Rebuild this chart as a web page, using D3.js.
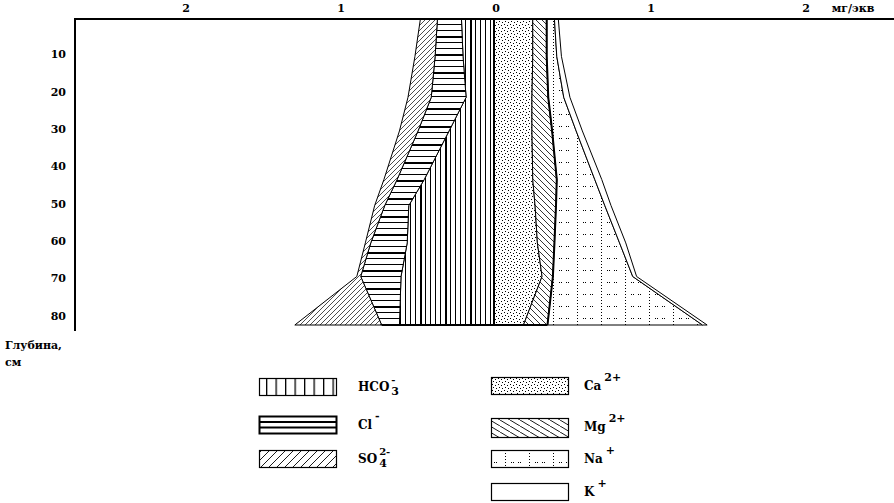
<!DOCTYPE html>
<html>
<head>
<meta charset="utf-8">
<script src="https://cdn.jsdelivr.net/npm/d3@7"></script>
<style>
  body { margin: 0; background: #fff; }
  svg { display: block; }
  text { font-family: "DejaVu Serif", "Liberation Serif", serif; font-weight: bold; fill: #000; }
</style>
</head>
<body>
<div id="chart"></div>
<script>
// depth of sampling points, cm
var depths = [0, 10, 21, 30, 43, 50, 60, 69, 82];
// anions, mg-eq (drawn to the left of zero)
var hco3 = [0.21, 0.20, 0.18, 0.29, 0.45, 0.55, 0.56, 0.60, 0.61];
var cl   = [0.155, 0.18, 0.225, 0.20, 0.175, 0.155, 0.235, 0.26, 0.115];
var so4  = [0.11, 0.13, 0.15, 0.12, 0.085, 0.065, 0.035, 0.025, 0.56];
// cations, mg-eq (drawn to the right of zero)
var ca = [0.25, 0.25, 0.245, 0.245, 0.25, 0.265, 0.28, 0.31, 0.19];
var mg = [0.09, 0.09, 0.105, 0.13, 0.155, 0.135, 0.11, 0.07, 0.155];
var na = [0.05, 0.065, 0.10, 0.155, 0.245, 0.315, 0.42, 0.515, 1.0];
var k  = [0.025, 0.03, 0.04, 0.04, 0.045, 0.04, 0.04, 0.025, 0.03];

var xTicks = [-2, -1, 0, 1, 2];
var depthTicks = [10, 20, 30, 40, 50, 60, 70, 80];

var W = 894, H = 503;

var x = d3.scaleLinear().domain([0, 1]).range([494, 649]);
var y = d3.scaleLinear().domain([0, 82]).range([19, 325]);

var svg = d3.select("#chart").append("svg")
    .attr("width", W)
    .attr("height", H);

// ---- fill patterns
var defs = svg.append("defs");

function pattern(id, w, h, draw) {
  var p = defs.append("pattern")
      .attr("id", id)
      .attr("patternUnits", "userSpaceOnUse")
      .attr("width", w)
      .attr("height", h);
  p.append("rect").attr("width", w).attr("height", h).attr("fill", "#fff");
  draw(p);
}

// vertical lines (HCO3)
pattern("p-hco3", 25, 10, function(p) {
  [0, 5, 10, 15].forEach(function(v) {
    p.append("rect").attr("x", v).attr("y", 0).attr("width", 1).attr("height", 10).attr("fill", "#000");
  });
  p.append("rect").attr("x", 20).attr("y", 0).attr("width", 2).attr("height", 10).attr("fill", "#000");
});
pattern("p-hco3-leg", 9.5, 10, function(p) {
  p.append("rect").attr("x", 0).attr("y", 0).attr("width", 1.3).attr("height", 10).attr("fill", "#000");
});
// horizontal lines (Cl)
pattern("p-cl", 10, 18, function(p) {
  p.append("rect").attr("x", 0).attr("y", 0).attr("width", 10).attr("height", 2).attr("fill", "#000");
  p.append("rect").attr("x", 0).attr("y", 6).attr("width", 10).attr("height", 1).attr("fill", "#000");
  p.append("rect").attr("x", 0).attr("y", 12).attr("width", 10).attr("height", 1).attr("fill", "#000");
});
// "/" hatch (SO4)
pattern("p-so4", 5, 5, function(p) {
  p.append("path").attr("d", "M0,5L5,0M-1,1L1,-1M4,6L6,4")
      .attr("stroke", "#000").attr("stroke-width", 0.7);
});
pattern("p-so4-leg", 8, 8, function(p) {
  p.append("path").attr("d", "M0,8L8,0M-1,1L1,-1M7,9L9,7")
      .attr("stroke", "#000").attr("stroke-width", 0.9);
});
// "\" hatch (Mg)
pattern("p-mg", 6, 6, function(p) {
  p.append("path").attr("d", "M0,0L6,6M-1,5L1,7M5,-1L7,1")
      .attr("stroke", "#000").attr("stroke-width", 0.8);
});
pattern("p-mg-leg", 10, 6, function(p) {
  p.append("path").attr("d", "M0,0L10,6M-10,0L0,6M10,0L20,6")
      .attr("stroke", "#000").attr("stroke-width", 0.9);
});
// dots (Ca)
pattern("p-ca", 6, 6, function(p) {
  [[0, 0], [3, 1], [1, 3], [4, 4]].forEach(function(d) {
    p.append("rect").attr("x", d[0]).attr("y", d[1]).attr("width", 1).attr("height", 1).attr("fill", "#000");
  });
});
// sparse dotted grid (Na)
pattern("p-na", 24, 12, function(p) {
  [0, 3, 6, 9].forEach(function(v) {
    p.append("rect").attr("x", 1).attr("y", v).attr("width", 1).attr("height", 1).attr("fill", "#000");
  });
  [7, 9, 14, 16].forEach(function(v) {
    p.append("rect").attr("x", v).attr("y", 6).attr("width", 1).attr("height", 1).attr("fill", "#000");
  });
});

// ---- stack the layers
var rows = depths.map(function(d, i) {
  var r = {depth: d};
  r.a1 = -hco3[i];
  r.a2 = r.a1 - cl[i];
  r.a3 = r.a2 - so4[i];
  r.c1 = ca[i];
  r.c2 = r.c1 + mg[i];
  r.c3 = r.c2 + na[i];
  r.c4 = r.c3 + k[i];
  r.zero = 0;
  return r;
});

var layers = [
  {name: "hco3", lo: "zero", hi: "a1", fill: "url(#p-hco3)"},
  {name: "cl",   lo: "a1",   hi: "a2", fill: "url(#p-cl)"},
  {name: "so4",  lo: "a2",   hi: "a3", fill: "url(#p-so4)"},
  {name: "ca",   lo: "zero", hi: "c1", fill: "url(#p-ca)"},
  {name: "mg",   lo: "c1",   hi: "c2", fill: "url(#p-mg)"},
  {name: "na",   lo: "c2",   hi: "c3", fill: "url(#p-na)"},
  {name: "k",    lo: "c3",   hi: "c4", fill: "#fff"}
];

svg.selectAll(".layer")
    .data(layers)
  .enter().append("path")
    .attr("class", "layer")
    .attr("fill", function(l) { return l.fill; })
    .attr("stroke", "#000")
    .attr("stroke-width", 1)
    .attr("stroke-linejoin", "round")
    .attr("d", function(l) {
      return d3.area()
          .y(function(d) { return y(d.depth); })
          .x0(function(d) { return x(d[l.lo]); })
          .x1(function(d) { return x(d[l.hi]); })(rows);
    });

// heavier boundaries
var line = function(key) {
  return d3.line()
      .x(function(d) { return x(d[key]); })
      .y(function(d) { return y(d.depth); })(rows);
};
["c2", "zero"].forEach(function(key) {
  svg.append("path").attr("d", line(key))
      .attr("fill", "none").attr("stroke", "#000").attr("stroke-width", 2);
});
svg.append("line")
    .attr("x1", x(rows[rows.length - 1].a2)).attr("x2", x(rows[rows.length - 1].c2))
    .attr("y1", y(82)).attr("y2", y(82))
    .attr("stroke", "#000").attr("stroke-width", 2);

// ---- axes
svg.append("line")
    .attr("x1", 74).attr("x2", W).attr("y1", 19).attr("y2", 19)
    .attr("stroke", "#000").attr("stroke-width", 2);
svg.append("line")
    .attr("x1", 75).attr("x2", 75).attr("y1", 18).attr("y2", 331)
    .attr("stroke", "#000").attr("stroke-width", 2);

svg.selectAll(".xlab")
    .data(xTicks)
  .enter().append("text")
    .attr("class", "xlab")
    .attr("x", function(d) { return x(d) + 2; })
    .attr("y", 12)
    .attr("text-anchor", "middle")
    .attr("font-size", "11px")
    .text(function(d) { return Math.abs(d); });

svg.append("text")
    .attr("x", 853).attr("y", 12)
    .attr("text-anchor", "middle")
    .attr("font-size", "11px")
    .text("мг/экв");

svg.selectAll(".ylab")
    .data(depthTicks)
  .enter().append("text")
    .attr("class", "ylab")
    .attr("x", 66)
    .attr("y", function(d) { return y(d) + 2; })
    .attr("text-anchor", "end")
    .attr("font-size", "11px")
    .text(function(d) { return d; });

svg.append("text").attr("x", 5).attr("y", 349).attr("font-size", "11px").text("Глубина,");
svg.append("text").attr("x", 5).attr("y", 366).attr("font-size", "11px").text("см");

// ---- legend
var legLeft = [
  {fill: "url(#p-hco3-leg)", y: 378, h: 17, label: "HCO", sub: "3", sup: "-"},
  {fill: "#fff", y: 416, h: 17, label: "Cl", sup: "-", cl: true},
  {fill: "url(#p-so4-leg)", y: 450, h: 17, label: "SO", sub: "4", sup: "2-"}
];
var legRight = [
  {fill: "url(#p-ca)", y: 377, h: 17, label: "Ca", sup: "2+"},
  {fill: "url(#p-mg-leg)", y: 418, h: 19, label: "Mg", sup: "2+"},
  {fill: "url(#p-na)", y: 450, h: 17, label: "Na", sup: "+"},
  {fill: "#fff", y: 483, h: 17, label: "K", sup: "+"}
];

function legend(items, bx, bw, tx) {
  items.forEach(function(it) {
    svg.append("rect")
        .attr("x", bx + 0.5).attr("y", it.y + 0.5)
        .attr("width", bw).attr("height", it.h)
        .attr("fill", it.fill)
        .attr("stroke", "#000")
        .attr("stroke-width", it.cl ? 2 : 1.2);
    if (it.cl) {
      [it.y + 6, it.y + 11.5].forEach(function(v) {
        svg.append("line").attr("x1", bx).attr("x2", bx + bw)
            .attr("y1", v).attr("y2", v)
            .attr("stroke", "#000").attr("stroke-width", 2);
      });
    }
    var t = svg.append("text")
        .attr("x", tx).attr("y", it.y + 13)
        .attr("font-size", "12px")
        .text(it.label);
    var w = t.node().getComputedTextLength();
    if (it.sub) {
      svg.append("text").attr("x", tx + w + 2).attr("y", it.y + 17)
          .attr("font-size", "11px").text(it.sub);
      svg.append("text").attr("x", tx + w + 2).attr("y", it.y + 5)
          .attr("font-size", "10px").text(it.sup);
    } else {
      svg.append("text").attr("x", tx + w + 3).attr("y", it.y + 4)
          .attr("font-size", "11px").text(it.sup);
    }
  });
}
legend(legLeft, 259, 77, 358);
legend(legRight, 491, 77, 584);
</script>
</body>
</html>
